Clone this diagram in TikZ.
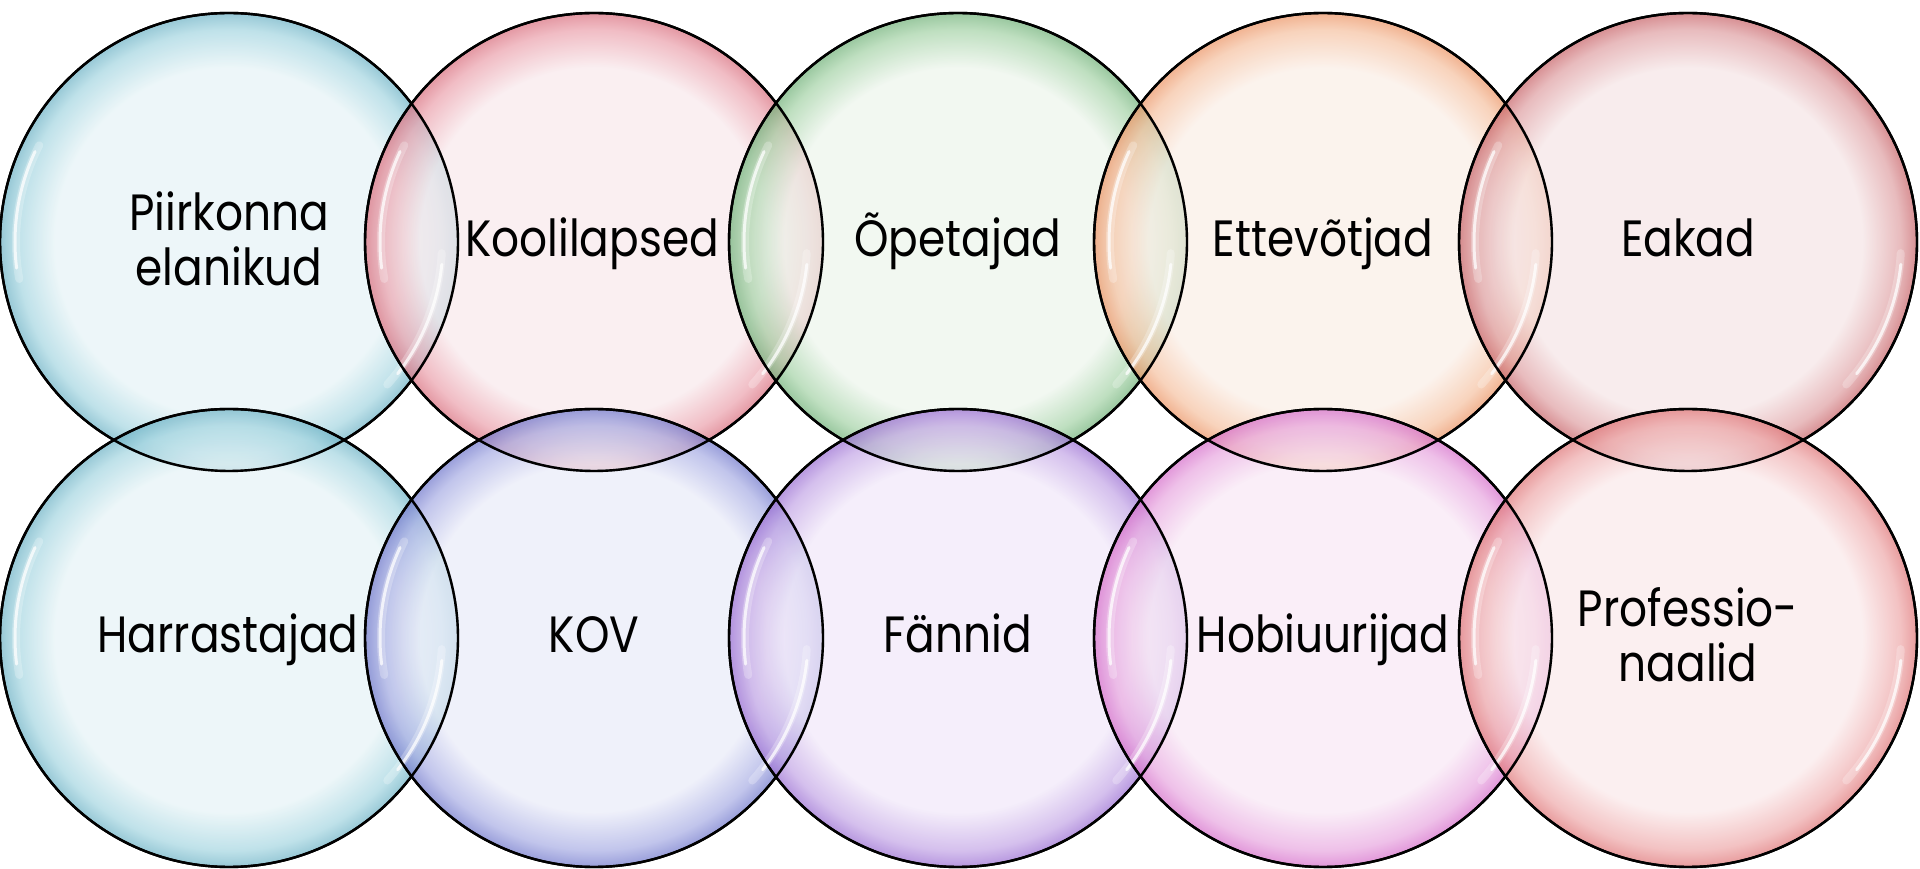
\documentclass[tikz,border=0pt]{standalone}
\usepackage{fontspec}
\setmainfont{Poppins}[FakeStretch=0.86]
\pgfdeclareradialshading[bubin,bubmid,bubout]{bubble}{\pgfpoint{0bp}{0bp}}{color(0bp)=(bubin); color(19bp)=(bubin); color(23.2bp)=(bubmid); color(25bp)=(bubout); color(50bp)=(bubout)}
\tikzset{
  bub/.style n args={3}{circle, minimum size=458pt, inner sep=0pt, outer sep=0pt, draw=black, line width=2.4pt,
     /utils/exec={\definecolor{bubin}{HTML}{#1}\definecolor{bubmid}{HTML}{#2}\definecolor{bubout}{HTML}{#3}},
     shading=bubble, fill opacity=0.72, draw opacity=1},
  rim/.style={draw=black, line width=2.4pt},
  lbl/.style={font=\fontsize{51}{55}\selectfont, align=center, text=black, inner sep=0pt},
  one/.style={lbl, anchor=base, yshift=-15pt},
  two/.style={lbl, anchor=center, yshift=3pt},
  shine/.style={draw=white, line width=3pt, line cap=round, opacity=0.75},
  shinesoft/.style={draw=white, line width=8pt, line cap=round, opacity=0.25}
}
\newcommand{\bubshine}[1]{%
  \draw[shinesoft] (#1) ++(153:213pt) arc[start angle=153, end angle=190, radius=213pt];
  \draw[shine] (#1) ++(155:214pt) arc[start angle=155, end angle=187, radius=214pt];
  \draw[shinesoft] (#1) ++(-3:213pt) arc[start angle=-3, end angle=-42, radius=213pt];
  \draw[shine] (#1) ++(-6:214pt) arc[start angle=-6, end angle=-38, radius=214pt];
}
\begin{document}
\begin{tikzpicture}[x=1pt,y=1pt]
\useasboundingbox (0,0) rectangle (1920,868);
% top row
\node[bub={E6F3F6}{A6D6E1}{6FB3C6}] (c1) at (229,626) {};
\node[bub={F8E9EC}{EBA3AE}{D9707F}] (c2) at (594,626) {};
\node[bub={EDF5EC}{A6D3A8}{72B27A}] (c3) at (958,626) {};
\node[bub={FAEEE6}{F5C2A2}{EC9566}] (c4) at (1323,626) {};
\node[bub={F5E5E6}{DFA1A4}{C86469}] (c5) at (1688,626) {};
% bottom row
\node[bub={E6F3F6}{A6D6E1}{6FB3C6}] (c6) at (229,230) {};
\node[bub={E9EBF8}{A9AEE4}{7279CC}] (c7) at (594,230) {};
\node[bub={F1E8F9}{C4A7E6}{9B6FD3}] (c8) at (958,230) {};
\node[bub={F8E8F5}{E8A8E0}{D66FCB}] (c9) at (1323,230) {};
\node[bub={FAE9EA}{EEAAAB}{DF7678}] (c10) at (1688,230) {};
\foreach \c in {c1,c2,c3,c4,c5,c6,c7,c8,c9,c10} {\bubshine{\c}}
\foreach \c in {c1,c2,c3,c4,c5,c6,c7,c8,c9,c10} {\draw[rim] (\c) circle[radius=229pt];}
% labels
\node[two] (t1) at (c1) {Piirkonna\\elanikud};
\node[one] (t2) at (592,626) {Koolilapsed};
\node[one] (t3) at (c3) {Õpetajad};
\node[one] (t4) at (c4) {Ettevõtjad};
\node[one] (t5) at (c5) {Eakad};
\node[one] (t6) at (228,230) {Harrastajad};
\node[one] (t7) at (c7) {KOV};
\node[one] (t8) at (c8) {Fännid};
\node[one] (t9) at (c9) {Hobiuurijad};
\node[two] (t10) at (c10) {Professio-\\naalid};
\end{tikzpicture}
\end{document}
